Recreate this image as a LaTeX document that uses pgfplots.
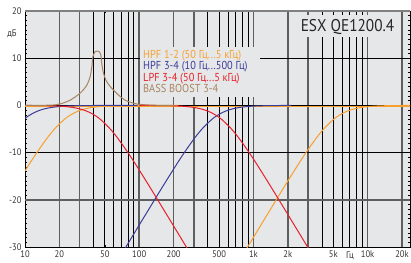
\documentclass[border=0pt]{standalone}
\usepackage{fontspec}
\setmainfont{PT Sans}[FakeStretch=0.9]
\usepackage{pgfplots}
\pgfplotsset{compat=1.18}
\definecolor{plotbg}{HTML}{E6E7E9}
\definecolor{gridgray}{HTML}{5E5E5E}
\definecolor{cOr}{HTML}{F7A030}
\definecolor{cBl}{HTML}{3C3C9A}
\definecolor{cRd}{HTML}{E8202C}
\definecolor{cBr}{HTML}{A8845E}
\definecolor{lab}{HTML}{333333}
\begin{document}
\begin{tikzpicture}
\useasboundingbox (-25pt,-15pt) rectangle (386pt,247pt);
\begin{axis}[
  at={(0,0)}, anchor=south west,
  scale only axis, width=385pt, height=236pt,
  xmode=log, xmin=10, xmax=23500, ymin=-30, ymax=20,
  axis background/.style={fill=plotbg},
  axis line style={black, line width=0.8pt},
  xtick={10,20,50,100,200,500,1000,2000,5000,10000,20000},
  xticklabels={10,20,50,100,200,500,1k,2k,5k,10k,20k},
  minor xtick={},
  ytick={-30,-20,-10,0,10,20},
  yticklabels={-30,-20,-10,0,10,20},
  minor y tick num=9,
  major tick length=2pt, minor tick length=2pt,
  tick style={black, line width=0.5pt},
  tick label style={font=\fontsize{9.5}{10}\selectfont, text=lab},
  every axis plot/.append style={line width=1pt},
]
\pgfplotsinvokeforeach{20,30,100,200,300,1000,2000,3000,10000,20000}{
  \draw[gridgray, line width=1.6pt] (axis cs:#1,-30) -- (axis cs:#1,20);}
\pgfplotsinvokeforeach{40,50,60,70,80,90,400,500,600,700,800,900,4000,5000,6000,7000,8000,9000}{
  \draw[black, line width=1pt] (axis cs:#1,-30) -- (axis cs:#1,20);}
\draw[gridgray, line width=1.6pt] (axis cs:10,-20) -- (axis cs:23500,-20);
\pgfplotsinvokeforeach{-10,0,10}{
  \draw[black, line width=1pt] (axis cs:10,#1) -- (axis cs:23500,#1);}
\addplot[cOr, line width=1.5pt] coordinates {(10,-0.2)(23500,-0.2)};
\addplot[cOr, smooth] coordinates {(10,-13.88)(11,-12.30)(12.94,-9.71)(15.71,-6.85)(18.33,-4.88)(22,-3.01)(24.44,-2.19)(27.5,-1.49)(31.43,-0.93)(36.67,-0.53)(44,-0.26)(55,-0.11)(73.3,-0.04)(110,-0.01)(220,0)};
\addplot[cOr, smooth] coordinates {(833,-31.13)(1000,-27.96)(1250,-24.10)(1667,-19.14)(2000,-16.03)(2500,-12.30)(2941,-9.71)(3571,-6.85)(4167,-4.88)(5000,-3.01)(5556,-2.19)(6250,-1.49)(7143,-0.93)(8333,-0.53)(10000,-0.26)(12500,-0.11)(16667,-0.04)(23500,0)};
\addplot[cBl, smooth] coordinates {(10,-2.75)(10.78,-2.19)(12.13,-1.49)(13.86,-0.93)(16.17,-0.53)(19.4,-0.26)(24.25,-0.11)(32.3,-0.04)(48.5,-0.01)(97,0)};
\addplot[cBl, smooth] coordinates {(71.7,-31.13)(86,-27.96)(107.5,-24.10)(143.3,-19.14)(172,-16.03)(215,-12.30)(252.9,-9.71)(307.1,-6.85)(358.3,-4.88)(430,-3.01)(477.8,-2.19)(537.5,-1.49)(614.3,-0.93)(716.7,-0.53)(860,-0.26)(1075,-0.11)(1433,-0.04)(2150,0)};
\addplot[cRd, smooth] coordinates {(10,-0.01)(13.8,-0.04)(18.4,-0.11)(23,-0.26)(27.6,-0.53)(32.2,-0.93)(36.8,-1.49)(41.4,-2.19)(46,-3.01)(55.2,-4.88)(64.4,-6.85)(78.2,-9.71)(92,-12.30)(115,-16.03)(138,-19.14)(184,-24.10)(230,-27.96)(276,-31.13)};
\addplot[cRd, smooth] coordinates {(100,0)(159,-0.04)(212,-0.11)(265,-0.26)(318,-0.53)(371,-0.93)(424,-1.49)(477,-2.19)(530,-3.01)(636,-4.88)(742,-6.85)(901,-9.71)(1060,-12.30)(1325,-16.03)(1590,-19.14)(2120,-24.10)(2650,-27.96)(3180,-31.13)};
\addplot[cBr, smooth, tension=0.5] coordinates {(10,0)(16.6,0.05)(20.2,0.3)(24.8,1.1)(30.4,2.6)(34.8,4.3)(37.2,6.1)(38.5,8.2)(39.3,10.3)(41.1,11.4)(42.8,11.5)(44.5,11.4)(46.1,10.7)(47.0,8.9)(48.7,6.8)(52.0,5.0)(57.6,3.6)(65.9,2.2)(75.4,1.1)(89.2,0.45)(97.8,0.25)(130,0.05)(200,0)};
\end{axis}
\draw[gray, line width=1.2pt] (0,236pt) -- (385pt,236pt);
\fill[plotbg] (115pt,150pt) rectangle (235pt,200pt);
\fill[plotbg] (270pt,210pt) rectangle (375pt,232pt);
\node[anchor=north west, inner xsep=3pt, inner ysep=2pt, align=left,
      font=\fontsize{11.5}{11.5}\selectfont] at (115pt,199pt)
  {\textcolor{cOr}{HPF 1-2 (50 Гц...5 кГц)}\\
   \textcolor{cBl}{HPF 3-4 (10 Гц...500 Гц)}\\
   \textcolor{cRd}{LPF 3-4 (50 Гц...5 кГц)}\\
   \textcolor{cBr}{BASS BOOST 3-4}};
\node[inner sep=0pt, font=\fontsize{17}{17}\selectfont, text=black!85] at (322.5pt,219.5pt) {ESX QE1200.4};
\node[font=\fontsize{9.5}{10}\selectfont, text=lab] at (-13pt,213pt) {дБ};
\node[font=\fontsize{9.5}{10}\selectfont, text=lab, inner sep=1pt] at (325pt,-9pt) {Гц};
\end{tikzpicture}
\end{document}
